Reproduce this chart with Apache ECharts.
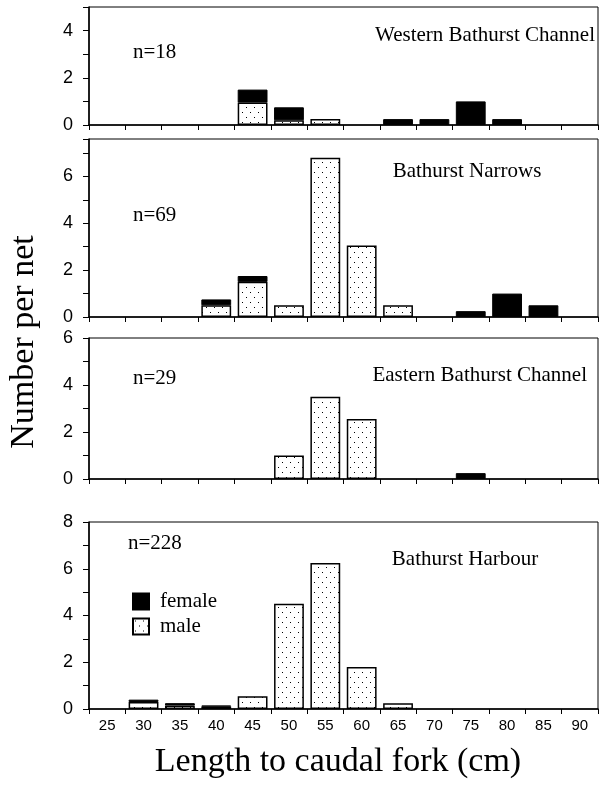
<!DOCTYPE html>
<html>
<head>
<meta charset="utf-8">
<script src="https://cdn.jsdelivr.net/npm/echarts@6/dist/echarts.min.js"></script>
<style>
  html, body { margin: 0; padding: 0; background: #fff; }
  #main { width: 599px; height: 786px; }
</style>
</head>
<body>
<div id="main"></div>
<script>
// length classes (cm)
var lengths = ['25', '30', '35', '40', '45', '50', '55', '60', '65', '70', '75', '80', '85', '90'];

// number per net
var westernMale   = [0, 0, 0, 0, 0.95, 0.2, 0.25, 0, 0, 0, 0, 0, 0, 0];
var westernFemale = [0, 0, 0, 0, 0.55, 0.55, 0, 0, 0.25, 0.25, 1.0, 0.25, 0, 0];
var narrowsMale   = [0, 0, 0, 0.5, 1.5, 0.5, 6.8, 3.05, 0.5, 0, 0, 0, 0, 0];
var narrowsFemale = [0, 0, 0, 0.25, 0.25, 0, 0, 0, 0, 0, 0.25, 1.0, 0.5, 0];
var easternMale   = [0, 0, 0, 0, 0, 1.0, 3.5, 2.55, 0, 0, 0, 0, 0, 0];
var easternFemale = [0, 0, 0, 0, 0, 0, 0, 0, 0, 0, 0.25, 0, 0, 0];
var harbourMale   = [0, 0.3, 0.15, 0.1, 0.55, 4.5, 6.25, 1.8, 0.25, 0, 0, 0, 0, 0];
var harbourFemale = [0, 0.1, 0.1, 0.05, 0, 0, 0, 0, 0, 0, 0, 0, 0, 0];

var panelNames = ['Western Bathurst Channel', 'Bathurst Narrows', 'Eastern Bathurst Channel', 'Bathurst Harbour'];
var panelN = ['n=18', 'n=69', 'n=29', 'n=228'];
var yMax = [5, 7.6, 6, 8];

var males = [westernMale, narrowsMale, easternMale, harbourMale];
var females = [westernFemale, narrowsFemale, easternFemale, harbourFemale];

// dotted fill for male bars
var dots = document.createElement('canvas');
dots.width = 8; dots.height = 10;
var ctx = dots.getContext('2d');
ctx.fillStyle = '#fff';
ctx.fillRect(0, 0, 8, 10);
ctx.fillStyle = '#000';
ctx.fillRect(2, 2, 1, 1);
ctx.fillRect(6, 7, 1, 1);
var dotFill = { image: dots, repeat: 'repeat' };

var grids = [
    { left: 89, right: 1, top: 7, height: 118 },
    { left: 89, right: 1, top: 139, height: 178 },
    { left: 89, right: 1, top: 338, height: 141 },
    { left: 89, right: 1, top: 522, height: 187 }
];

function clean(arr) {
    return arr.map(function (v) { return v === 0 ? '-' : v; });
}

var xAxes = [], yAxes = [], series = [];
for (var i = 0; i < 4; i++) {
    grids[i].show = true;
    grids[i].borderColor = '#000';
    grids[i].borderWidth = 1;
    xAxes.push({
        type: 'category',
        gridIndex: i,
        data: lengths,
        boundaryGap: true,
        axisLine: { lineStyle: { color: '#000', width: 1.5 } },
        axisTick: { show: true, length: 5, lineStyle: { color: '#000' } },
        axisLabel: {
            show: i === 3,
            color: '#000',
            fontFamily: 'Liberation Sans',
            fontSize: 15,
            margin: 9
        }
    });
    yAxes.push({
        type: 'value',
        gridIndex: i,
        min: 0,
        max: yMax[i],
        interval: 1,
        splitLine: { show: false },
        axisLine: { show: true, lineStyle: { color: '#000', width: 1.5 } },
        axisTick: { show: true, length: 6, lineStyle: { color: '#000' } },
        axisLabel: {
            color: '#000',
            fontFamily: 'Liberation Sans',
            fontSize: 18,
            margin: 16,
            formatter: function (v) { return v % 2 === 0 ? String(v) : ''; }
        }
    });
    series.push({
        name: 'male',
        type: 'bar',
        xAxisIndex: i,
        yAxisIndex: i,
        stack: 'p' + i,
        barWidth: '82%',
        data: clean(males[i]),
        itemStyle: { color: dotFill, borderColor: '#000', borderWidth: 1.5 }
    });
    series.push({
        name: 'female',
        type: 'bar',
        xAxisIndex: i,
        yAxisIndex: i,
        stack: 'p' + i,
        barWidth: '82%',
        data: clean(females[i]),
        itemStyle: { color: '#000', borderColor: '#000', borderWidth: 1 }
    });
}

var serif = 'Liberation Serif';
var textEls = [
    { type: 'text', style: { x: 595, y: 35, text: panelNames[0], textAlign: 'right', textVerticalAlign: 'middle', font: '21px "Liberation Serif"', fill: '#000' } },
    { type: 'text', style: { x: 467, y: 171, text: panelNames[1], textAlign: 'center', textVerticalAlign: 'middle', font: '21px "Liberation Serif"', fill: '#000' } },
    { type: 'text', style: { x: 587, y: 375, text: panelNames[2], textAlign: 'right', textVerticalAlign: 'middle', font: '21px "Liberation Serif"', fill: '#000' } },
    { type: 'text', style: { x: 465, y: 559, text: panelNames[3], textAlign: 'center', textVerticalAlign: 'middle', font: '21px "Liberation Serif"', fill: '#000' } },
    { type: 'text', style: { x: 133, y: 52, text: panelN[0], textVerticalAlign: 'middle', font: '21px "Liberation Serif"', fill: '#000' } },
    { type: 'text', style: { x: 133, y: 215, text: panelN[1], textVerticalAlign: 'middle', font: '21px "Liberation Serif"', fill: '#000' } },
    { type: 'text', style: { x: 133, y: 378, text: panelN[2], textVerticalAlign: 'middle', font: '21px "Liberation Serif"', fill: '#000' } },
    { type: 'text', style: { x: 128, y: 543, text: panelN[3], textVerticalAlign: 'middle', font: '21px "Liberation Serif"', fill: '#000' } },
    // axis titles
    { type: 'text', x: 24, y: 342, rotation: Math.PI / 2,
      style: { x: 0, y: 0, text: 'Number per net', textAlign: 'center', textVerticalAlign: 'middle', font: '34px "Liberation Serif"', fill: '#000' } },
    { type: 'text', style: { x: 338, y: 762, text: 'Length to caudal fork (cm)', textAlign: 'center', textVerticalAlign: 'middle', font: '34px "Liberation Serif"', fill: '#000' } }
];

var myChart = echarts.init(document.getElementById('main'), null, { renderer: 'canvas' });
var option = {
    backgroundColor: '#fff',
    animation: false,
    grid: grids,
    xAxis: xAxes,
    yAxis: yAxes,
    legend: {
        data: ['female', 'male'],
        orient: 'vertical',
        left: 127,
        top: 586,
        itemWidth: 16,
        itemHeight: 16,
        itemGap: 4,
        icon: 'rect',
        textStyle: { fontFamily: serif, fontSize: 21, color: '#000', padding: [0, 0, 0, 6] }
    },
    graphic: textEls,
    series: series
};
myChart.setOption(option);
</script>
</body>
</html>
